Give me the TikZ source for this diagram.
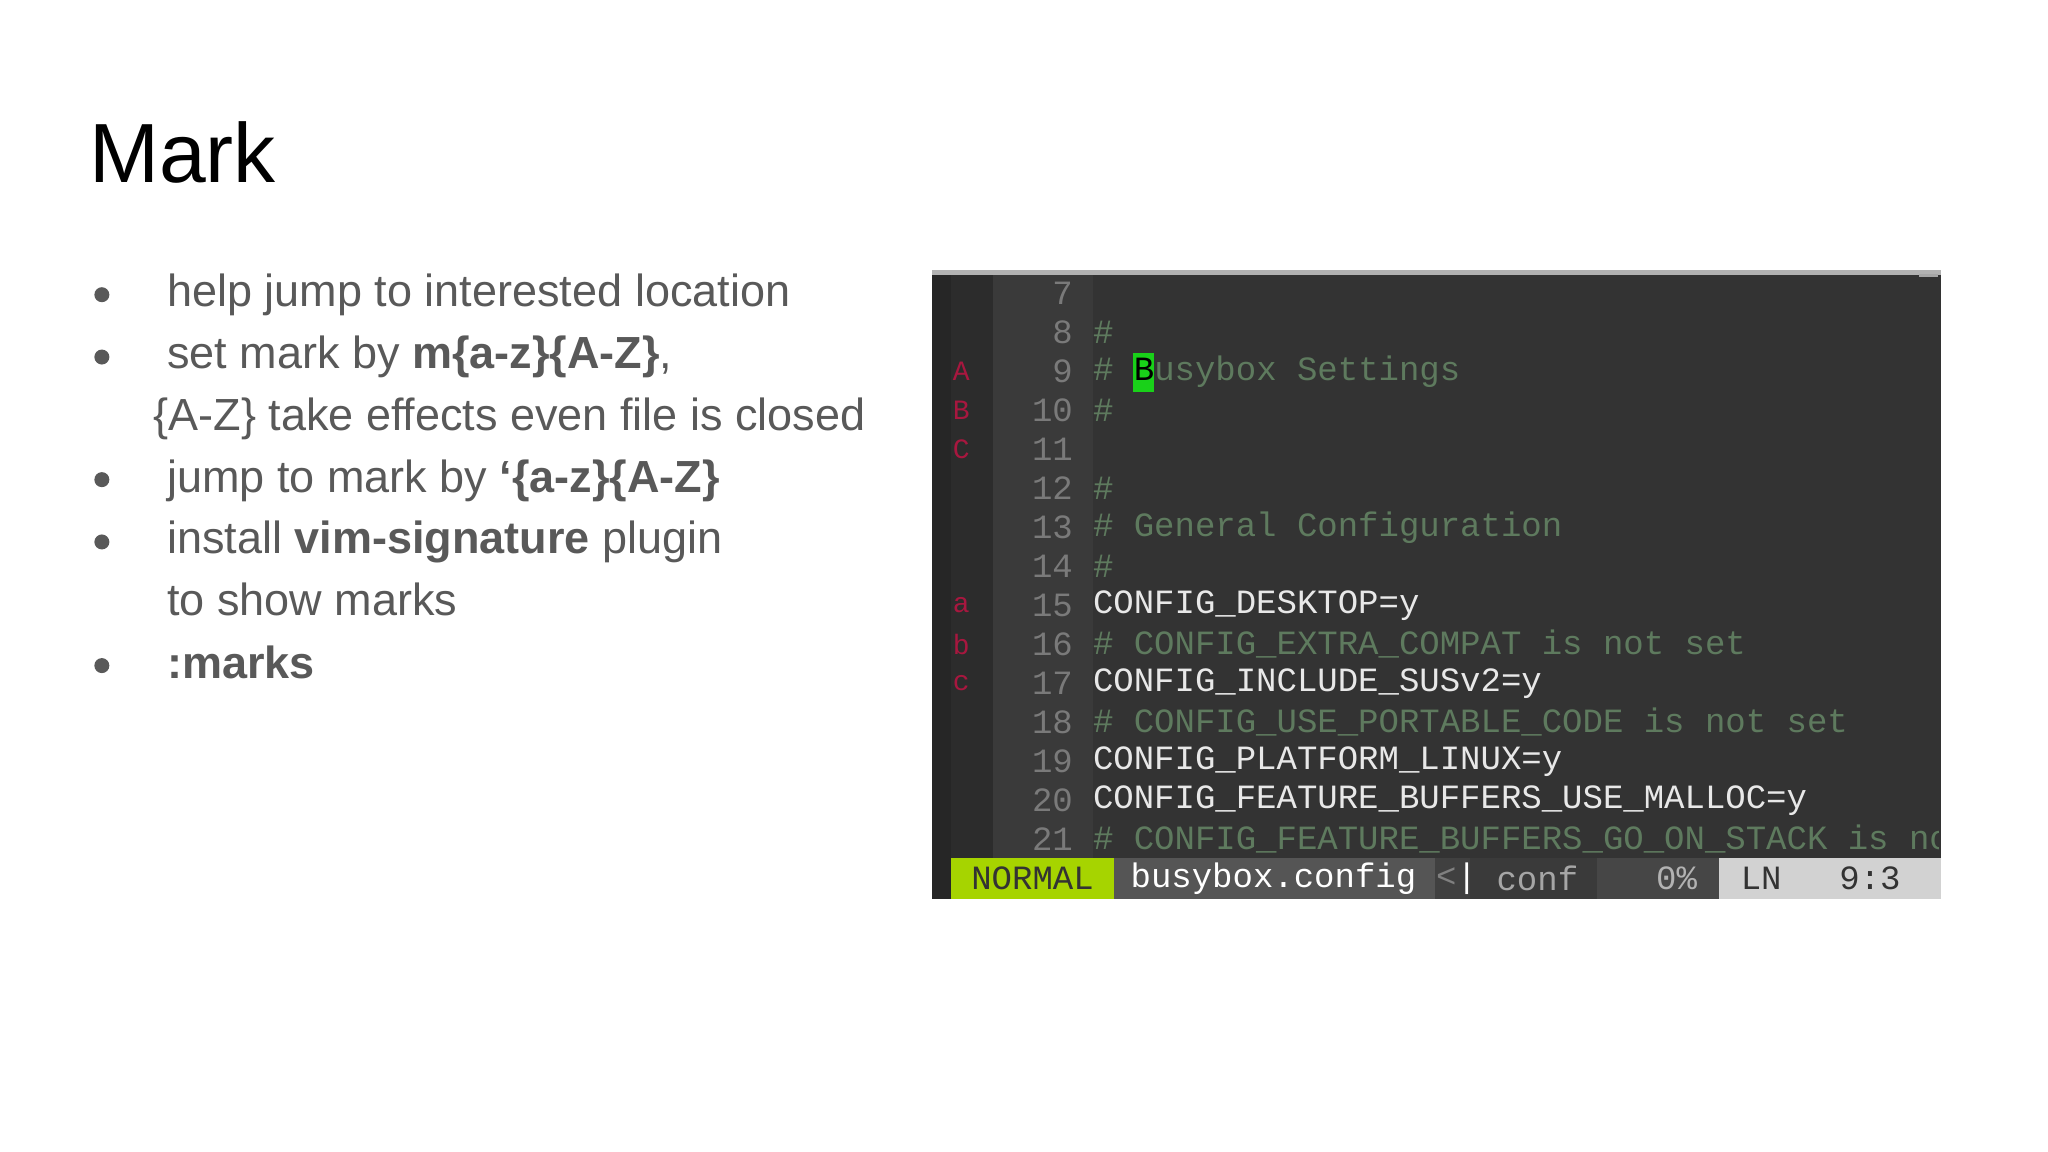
\documentclass[tikz,border=0pt]{standalone}
\usepackage{fontspec}
\setmainfont{Liberation Sans}
\newfontfamily\vimfont{Liberation Mono}
\definecolor{txtgray}{HTML}{595959}
\definecolor{termbg}{HTML}{333333}
\definecolor{signbg}{HTML}{2C2C2C}
\definecolor{numbg}{HTML}{3A3A3A}
\definecolor{numcol}{HTML}{7A7A7A}
\definecolor{cmtcol}{HTML}{5E7A5E}
\definecolor{cfgcol}{HTML}{E8E8E8}
\definecolor{markcol}{HTML}{A8173F}
\definecolor{normbg}{HTML}{A6D400}
\definecolor{filebg}{HTML}{555555}
\begin{document}
\begin{tikzpicture}[x=0.989pt,y=-0.989pt,
  bl/.style={anchor=base west,inner sep=0,font=\fontsize{45}{50}\selectfont,text=txtgray},
  bdot/.style={fill=txtgray,circle,inner sep=0,minimum size=15},
  mono/.style={inner sep=0,font=\vimfont\fontsize{34}{36}\selectfont},
  lnum/.style={mono,anchor=east,text=numcol},
  sgn/.style={mono,anchor=center,text=markcol,font=\vimfont\fontsize{28}{30}\selectfont},
  cmt/.style={mono,anchor=west,text=cmtcol},
  cfg/.style={mono,anchor=west,text=cfgcol}]
\useasboundingbox (0,0) rectangle (2070.8,1164.8);
\fill[white] (0,0) rectangle (2070.8,1164.8);
\node[anchor=base west,inner sep=0,font=\fontsize{84}{90}\selectfont] (title) at (90,185) {Mark};
% bullets
\foreach \y/\n in {298/d1,361/d2,485/d3,548/d4,673/d5} \node[bdot] (\n) at (103,\y) {};
\node[bl] (b1) at (169,310) {help jump to interested location};
\node[bl] (b2) at (169,373) {set mark by \textbf{m\{a-z\}\{A-Z\}},};
\node[bl] (b2b) at (155,435) {\{A-Z\} take effects even file is closed};
\node[bl] (b3) at (169,498) {jump to mark by \textbf{`\{a-z\}\{A-Z\}}};
\node[bl] (b4) at (169,560) {install \textbf{vim-signature} plugin};
\node[bl] (b4b) at (169,622) {to show marks};
\node[bl] (b5) at (169,686) {\textbf{:marks}};
% terminal
\fill[termbg] (942,273) rectangle (1963,909);
\fill[gray!60] (942,273) rectangle (1963,278);
\fill[black!85] (942,278) rectangle (962,909);
\fill[signbg] (962,278) rectangle (1004,868);
\fill[numbg] (1004,278) rectangle (1105,868);
\fill[gray!70] (1940,277) rectangle (1960,280);
\foreach \n in {7,...,21} \node[lnum] (n\n) at (1085,{297+(\n-7)*39.4}) {\n};
\foreach \n/\l in {9/A,10/B,11/C,15/a,16/b,17/c} \node[sgn] (s\n) at (972,{297+(\n-7)*39.4}) {\l};
\fill[green!80!black!90] (1146,357) rectangle (1167,396);
\node[cmt] (t8) at (1105,336.4) {\#};
\node[cmt] (t9) at (1105,375.8) {\# \textcolor{black}{B}usybox Settings};
\node[cmt] (t10) at (1105,415.2) {\#};
\node[cmt] (t12) at (1105,494) {\#};
\node[cmt] (t13) at (1105,533.4) {\# General Configuration};
\node[cmt] (t14) at (1105,572.8) {\#};
\node[cfg] (t15) at (1105,612.2) {CONFIG\_DESKTOP=y};
\node[cmt] (t16) at (1105,651.6) {\# CONFIG\_EXTRA\_COMPAT is not set};
\node[cfg] (t17) at (1105,691) {CONFIG\_INCLUDE\_SUSv2=y};
\node[cmt] (t18) at (1105,730.4) {\# CONFIG\_USE\_PORTABLE\_CODE is not set};
\node[cfg] (t19) at (1105,769.8) {CONFIG\_PLATFORM\_LINUX=y};
\node[cfg] (t20) at (1105,809.2) {CONFIG\_FEATURE\_BUFFERS\_USE\_MALLOC=y};
\begin{scope}
\clip (1105,830) rectangle (1960,868);
\node[cmt] (t21) at (1105,848.6) {\# CONFIG\_FEATURE\_BUFFERS\_GO\_ON\_STACK is no};
\end{scope}
% status bar
\fill[normbg] (962,868) rectangle (1126,909);
\fill[filebg] (1126,868) rectangle (1451,909);
\fill[black!75] (1451,868) rectangle (1486,909);
\fill[numbg] (1486,868) rectangle (1615,909);
\fill[gray!55!black] (1615,868) rectangle (1738,909);
\fill[gray!35] (1738,868) rectangle (1963,909);
\node[mono,text=black!80] (st1) at (1044,888) {NORMAL};
\node[mono,anchor=west,text=white] (st2) at (1143,888) {busybox.config};
\node[mono,anchor=west,text=gray] (st3) at (1452,888) {<\textcolor{white}{|}};
\node[mono,anchor=west,text=gray!70] (st4) at (1513,888) {conf};
\node[mono,anchor=east,text=gray!60] (st5) at (1716,888) {0\%};
\node[mono,anchor=west,text=black!80] (st6) at (1760,888) {LN};
\node[mono,anchor=east,text=black!80] (st7) at (1922,888) {9:3};
\end{tikzpicture}
\end{document}
